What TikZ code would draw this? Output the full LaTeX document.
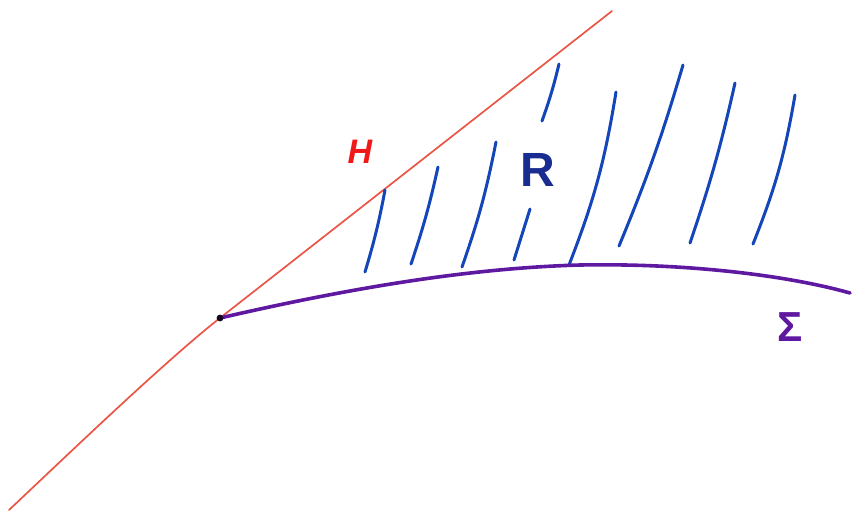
\documentclass[tikz,border=0pt]{standalone}
\usepackage{fontspec}
\setsansfont{Liberation Sans}
\begin{document}
\begin{tikzpicture}[x=1pt,y=-1pt,
  hatch/.style={draw=hatchblue,line width=3pt,line cap=round},
  ]
\definecolor{hatchblue}{RGB}{20,70,185}
\definecolor{lineRed}{RGB}{235,85,70}
\definecolor{textRed}{RGB}{240,25,25}
\definecolor{sigPurple}{RGB}{95,25,160}
\definecolor{rNavy}{RGB}{25,45,145}
\useasboundingbox (0,0) rectangle (853,517);
% red line H
\coordinate (P) at (220,318);
\draw[lineRed,line width=1.7pt,line cap=round] (9,510) .. controls (60,462) and (165,361) .. (P) -- (612,11);
% hatch lines
\draw[hatch] (385,190) to[bend left=3] (365,272);
\draw[hatch] (438,167) to[bend left=3] (411,264);
\draw[hatch] (496,142) to[bend left=4] (462,267);
\draw[hatch] (559,64) to[bend left=3] (542,121);
\draw[hatch] (530,209) -- (514,260);
\draw[hatch] (616,92) to[bend left=6] (569,265);
\draw[hatch] (683,65) to[bend left=3] (619,246);
\draw[hatch] (735,83) to[bend left=3] (690,243);
\draw[hatch] (795,95) to[bend left=6] (753,244);
% purple curve Sigma
\draw[sigPurple,line width=3.6pt,line cap=round] (P) .. controls (350,288) and (470,268) .. (580,265) .. controls (690,263) and (790,276) .. (850,293);
\fill[black!80!sigPurple] (P) circle (3.4pt);
% labels
\node[textRed,font=\sffamily\itshape\bfseries\fontsize{34}{34}\selectfont] (H) at (360,152) {H};
\node[rNavy,font=\sffamily\bfseries\fontsize{48}{48}\selectfont] (R) at (538,170) {R};
\node[sigPurple,font=\sffamily\bfseries\fontsize{42}{42}\selectfont] (S) at (790,327) {Σ};
\end{tikzpicture}
\end{document}
